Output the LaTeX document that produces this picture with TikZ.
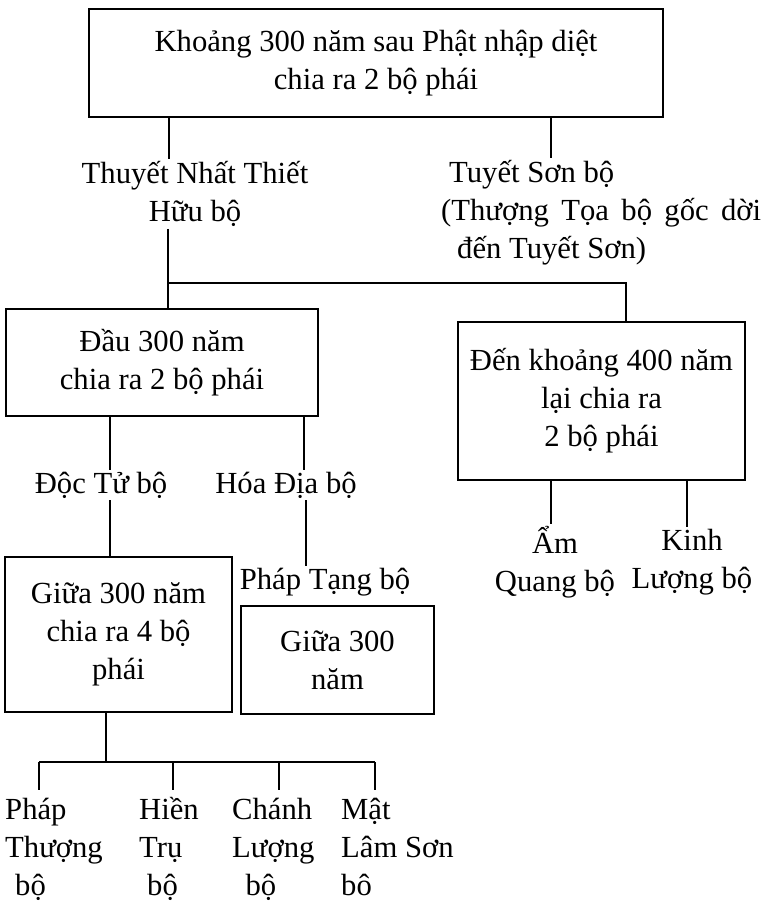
\documentclass[tikz,border=0pt]{standalone}
\usepackage{fontspec}
\setmainfont{Liberation Serif}
\newcommand\Noi[3]{%
    \draw (#1.south -| #3,0) -- (#2.north -| #3,0);
}
\tikzset{
    khung/.style={draw,line width=2pt,align=center,inner sep=0pt},
    nhan/.style={align=center,inner sep=1pt},
    cot/.style={nhan,align=left,anchor=north west},
}

\begin{document}
\begin{tikzpicture}[x=0.75pt,y=-0.75pt,font=\fontsize{23}{28.5}\selectfont,line width=1.3pt]
    \useasboundingbox (0,0) rectangle (763,903);
    \node[khung,minimum width=430.5pt,minimum height=81pt] (goc) at (376,63) {Khoảng 300 năm sau Phật nhập diệt\\chia ra 2 bộ phái};
    \node[nhan] (thuyet) at (195,194) {Thuyết Nhất Thiết\\Hữu bộ};
    \node[nhan,align=left,anchor=west] (tuyet) at (439,213) {\hspace*{6pt}Tuyết Sơn bộ\\\makebox[240pt][s]{(Thượng Tọa bộ gốc dời}\\\hspace*{12pt}đến Tuyết Sơn)};
    \node[khung,minimum width=234pt,minimum height=80.25pt] (dau) at (162,362.5) {Đầu 300 năm\\chia ra 2 bộ phái};
    \node[khung,minimum width=215.25pt,minimum height=118.5pt] (den) at (601.5,401) {Đến khoảng 400 năm\\lại chia ra\\2 bộ phái};
    \node[nhan] (docTu) at (101,485) {Độc Tử bộ};
    \node[nhan] (hoaDia) at (286,485) {Hóa Địa bộ};
    \node[nhan] (phapTang) at (325,582) {Pháp Tạng bộ};
    \node[khung,minimum width=170.25pt,minimum height=116.25pt] (giua) at (118.5,634.5) {Giữa 300 năm\\chia ra 4 bộ\\phái};
    \node[khung,minimum width=144.75pt,minimum height=81pt] (giuaHai) at (337.5,660) {Giữa 300\\năm};
    \node[nhan] (am) at (555,562) {Ẩm\\Quang bộ};
    \node[nhan] (kinh) at (692,562) {Kinh\\Lượng bộ};
    % hang cuoi
    \node[cot] (phapThuong) at (3,790) {\vphantom{Ề}Pháp\\Thượng\\\hspace*{7.5pt}bộ};
    \node[cot] (hienTru) at (137,790) {\vphantom{Ề}Hiền\\Trụ\\\hspace*{6pt}bộ};
    \node[cot] (chanhLuong) at (230,790) {\vphantom{Ề}Chánh\\Lượng\\\hspace*{10pt}bộ};
    \node[cot] (matLam) at (339,790) {\vphantom{Ề}Mật\\Lâm Sơn\\bô};
    % noi
    \Noi{goc}{thuyet}{169}
    \Noi{goc}{tuyet}{551}
    \Noi{thuyet}{dau}{168}
    \coordinate (re) at (168,283);
    \draw (re) -| (den.north -| 626,0);
    \Noi{dau}{docTu}{110}
    \Noi{dau}{hoaDia}{304}
    \Noi{docTu}{giua}{110}
    \Noi{hoaDia}{phapTang}{306}
    \Noi{den}{am}{551}
    \Noi{den}{kinh}{687}
    \coordinate (ga) at (106,762);
    \draw (giua.south -| ga) -- (ga);
    \draw (39,762) -- (375,762);
    \foreach \x/\n in {39/phapThuong,173/hienTru,279/chanhLuong,375/matLam}
        \draw (\x,762) -- (\n.north -| \x,0);
\end{tikzpicture}
\end{document}
